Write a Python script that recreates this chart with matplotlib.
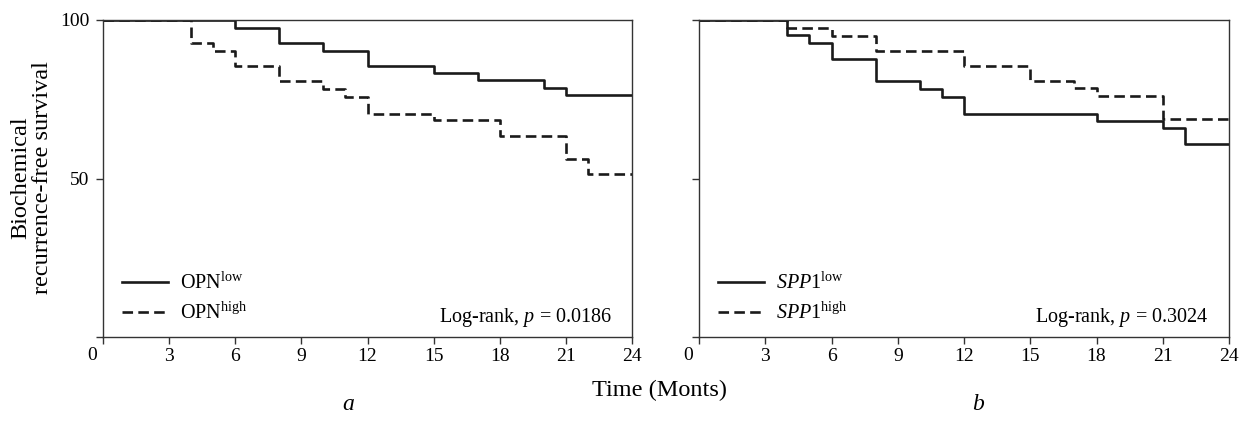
import numpy as np
import matplotlib
matplotlib.use("Agg")
import matplotlib.pyplot as plt

plt.rcParams['font.family'] = ['Liberation Serif', 'DejaVu Serif']
plt.rcParams['mathtext.fontset'] = 'custom'
plt.rcParams['mathtext.rm'] = 'Liberation Serif'
plt.rcParams['mathtext.it'] = 'Liberation Serif:italic'

# Kaplan-Meier step data (months, survival %)
opn_low_t = [0, 6, 8, 10, 12, 15, 17, 20, 21, 24]
opn_low_s = [100, 97.5, 92.7, 90.2, 85.5, 83.3, 81.0, 78.6, 76.2, 76.2]

opn_high_t = [0, 4, 5, 6, 8, 10, 11, 12, 15, 18, 21, 22, 24]
opn_high_s = [100, 92.7, 90.2, 85.5, 80.8, 78.1, 75.8, 70.5, 68.4, 63.5, 56.1, 51.3, 51.3]

spp1_low_t = [0, 4, 5, 6, 8, 10, 11, 12, 18, 21, 22, 24]
spp1_low_s = [100, 95.2, 92.6, 87.8, 80.7, 78.1, 75.8, 70.5, 68.2, 65.8, 60.8, 60.8]

spp1_high_t = [0, 4, 6, 8, 12, 15, 17, 18, 21, 24]
spp1_high_s = [100, 97.6, 95.1, 90.3, 85.5, 80.8, 78.4, 76.0, 68.9, 68.9]

x_ticks = [0, 3, 6, 9, 12, 15, 18, 21, 24]
x_tick_labels = ['', '3', '6', '9', '12', '15', '18', '21', '24']
y_ticks = [0, 50, 100]
y_tick_labels = ['', '50', '100']

panels = [
    dict(low=(opn_low_t, opn_low_s), high=(opn_high_t, opn_high_s),
         low_label=r'OPN$^{\mathrm{low}}$', high_label=r'OPN$^{\mathrm{high}}$',
         p_text=r'Log-rank, $p$ = 0.0186', rect=[103 / 1239, 87 / 424, 529 / 1239, 317 / 424],
         letter='a', letter_x=348 / 1239, ylabels=True),
    dict(low=(spp1_low_t, spp1_low_s), high=(spp1_high_t, spp1_high_s),
         low_label=r'$\mathit{SPP1}^{\mathrm{low}}$', high_label=r'$\mathit{SPP1}^{\mathrm{high}}$',
         p_text=r'Log-rank, $p$ = 0.3024', rect=[699 / 1239, 87 / 424, 530 / 1239, 317 / 424],
         letter='b', letter_x=978 / 1239, ylabels=False),
]

fig = plt.figure(figsize=(12.39, 4.24), dpi=100)

for pnl in panels:
    ax = fig.add_axes(pnl['rect'])
    ax.step(pnl['low'][0], pnl['low'][1], where='post', color='#1a1a1a', lw=1.9,
            label=pnl['low_label'])
    ax.step(pnl['high'][0], pnl['high'][1], where='post', color='#1a1a1a', lw=1.9,
            dashes=(4, 2), label=pnl['high_label'])
    ax.set_xlim(0, 24)
    ax.set_ylim(0, 100)
    ax.set_xticks(x_ticks)
    ax.set_xticklabels(x_tick_labels)
    ax.set_yticks(y_ticks)
    if pnl['ylabels']:
        ax.set_yticklabels(y_tick_labels)
    else:
        ax.set_yticklabels([])
    ax.tick_params(direction='out', length=5, width=1.0, labelsize=14, color='#333333')
    ax.tick_params(axis='x', pad=3)
    ax.tick_params(axis='y', pad=5)
    for sp in ax.spines.values():
        sp.set_linewidth(1.0)
        sp.set_color('#333333')
    ax.text(-0.021, -0.057, '0', transform=ax.transAxes, ha='center', va='center', fontsize=14)
    ax.legend(loc='lower left', bbox_to_anchor=(0.02, 0.015), frameon=False, fontsize=14.5,
              handlelength=2.3, handletextpad=0.6, labelspacing=0.45, borderaxespad=0.0)
    ax.text(0.962, 0.063, pnl['p_text'], transform=ax.transAxes, ha='right', va='center',
            fontsize=14.5)
    fig.text(pnl['letter_x'], 1 - 405 / 424, pnl['letter'], ha='center', va='center',
             fontsize=17, style='italic')

fig.text(31.5 / 1239, 1 - 178 / 424, 'Biochemical\nrecurrence-free survival', rotation=90,
         ha='center', va='center', fontsize=17.5, linespacing=1.0)
fig.text(659 / 1239, 1 - 390 / 424, 'Time (Monts)', ha='center', va='center', fontsize=17.5)

fig.savefig('out.png', dpi=100)
